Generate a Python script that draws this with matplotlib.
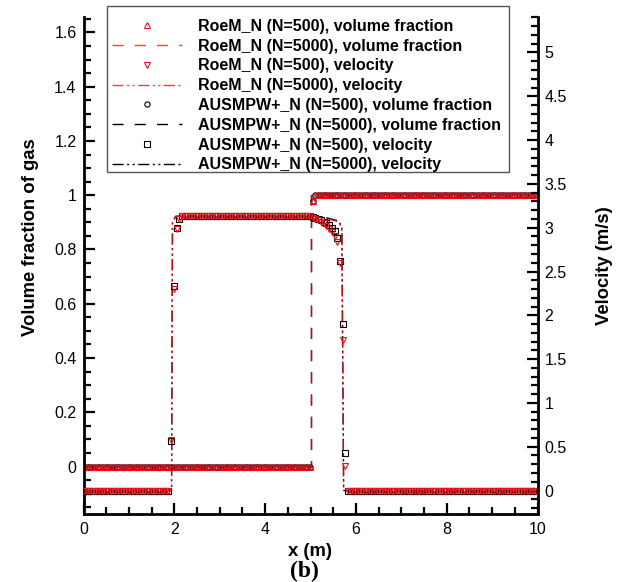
import matplotlib
matplotlib.use('Agg')
import matplotlib.pyplot as plt
import numpy as np
from matplotlib.patches import Rectangle
from matplotlib.ticker import MultipleLocator, FuncFormatter

plt.rcParams['font.family'] = ['Liberation Sans', 'DejaVu Sans']

## N=500 results (markers, every 3rd cell drawn) ##
x500 = np.round(0.01 + 0.06 * np.arange(167), 2)

# volume fraction: 0 left of the interface, 1 right of it
alpha_left = 0.0
alpha_right = 1.0
x_interface = 5.0
x_alpha_jump = [5.05]
roe_alpha_jump = [0.98]
ausm_alpha_jump = [0.98]

# velocity (m/s): 0 -> plateau -> 0
u_left = 0.0
u_mid = 3.13
u_right = 0.0
x_u_front = [1.93, 1.99, 2.05, 2.11]
roe_u_front = [0.58, 2.30, 2.98, 3.10]
ausm_u_front = [0.56, 2.33, 3.00, 3.10]
x_u_back = [5.05, 5.11, 5.17, 5.23, 5.29, 5.35, 5.41, 5.47, 5.53, 5.59, 5.65, 5.71, 5.77]
roe_u_back = [3.11, 3.10, 3.09, 3.07, 3.05, 3.02, 2.99, 2.95, 2.90, 2.84, 2.60, 1.72, 0.28]
ausm_u_back = [3.12, 3.11, 3.10, 3.09, 3.07, 3.05, 3.03, 3.00, 2.96, 2.88, 2.62, 1.90, 0.43]

## N=5000 results (lines) ##
x5000_alpha = [0.0, 5.0, 5.0, 10.0]
roe_alpha5000 = [0.0, 0.0, 1.0, 1.0]
ausm_alpha5000 = [0.0, 0.0, 1.0, 1.0]
x5000_u = [0.0, 1.94, 1.96, 2.03, 5.0, 5.3, 5.6, 5.69, 5.73, 10.0]
roe_u5000 = [0.0, 0.0, 3.05, 3.13, 3.13, 3.11, 3.07, 3.00, 0.0, 0.0]
ausm_u5000 = [0.0, 0.0, 3.06, 3.13, 3.13, 3.12, 3.08, 3.02, 0.0, 0.0]


def build_alpha(jump_vals):
    a = np.where(x500 < x_interface, alpha_left, alpha_right)
    for xj, v in zip(x_alpha_jump, jump_vals):
        a[np.isclose(x500, xj)] = v
    return a


def build_u(front, back):
    u = np.full(x500.shape, u_left)
    u[(x500 > x_u_front[-1]) & (x500 < x_u_back[0])] = u_mid
    u[x500 > x_u_back[-1]] = u_right
    for xs, vs in ((x_u_front, front), (x_u_back, back)):
        for xj, v in zip(xs, vs):
            u[np.isclose(x500, xj)] = v
    return u


roe_alpha500 = build_alpha(roe_alpha_jump)
ausm_alpha500 = build_alpha(ausm_alpha_jump)
roe_u500 = build_u(roe_u_front, roe_u_back)
ausm_u500 = build_u(ausm_u_front, ausm_u_back)

W, H = 617, 582
fig = plt.figure(figsize=(W / 100, H / 100), dpi=100)
ax = fig.add_axes([83.5 / W, 68 / H, 454 / W, 497 / H])
ax2 = ax.twinx()

red = '#e8121a'
dash = (0, (8, 8))
dashdotdot = (0, (8, 2.5, 1.5, 2.5, 1.5, 2.5))
mk = dict(markersize=3.8, markeredgewidth=0.8, markerfacecolor='none', linestyle='none')

# volume fraction on left axis
l_aus_a, = ax.plot(x5000_alpha, ausm_alpha5000, color='k', lw=1.0, linestyle=dash)
l_roe_a, = ax.plot(x5000_alpha, roe_alpha5000, color=red, lw=1.0, linestyle=dash, alpha=0.8)
m_aus_a, = ax.plot(x500, ausm_alpha500, marker='o', color='k', **mk)
m_roe_a, = ax.plot(x500, roe_alpha500, marker='^', color=red, **mk)

# velocity on right axis
l_aus_u, = ax2.plot(x5000_u, ausm_u5000, color='k', lw=1.0, linestyle=dashdotdot)
l_roe_u, = ax2.plot(x5000_u, roe_u5000, color=red, lw=1.0, linestyle=dashdotdot, alpha=0.8)
m_aus_u, = ax2.plot(x500, ausm_u500, marker='s', color='k', **mk)
m_roe_u, = ax2.plot(x500, roe_u500, marker='v', color=red, **mk)

ax.set_xlim(0, 10)
ax.set_ylim(-0.175, 1.657)
ax2.set_ylim(-0.268, 5.405)

fmt = FuncFormatter(lambda v, p: '%g' % round(v, 3))
ax.xaxis.set_major_locator(MultipleLocator(2))
ax.xaxis.set_minor_locator(MultipleLocator(0.5))
ax.yaxis.set_major_locator(MultipleLocator(0.2))
ax.yaxis.set_minor_locator(MultipleLocator(0.05))
ax2.yaxis.set_major_locator(MultipleLocator(0.5))
ax2.yaxis.set_minor_locator(MultipleLocator(0.1))
ax.xaxis.set_major_formatter(fmt)
ax.yaxis.set_major_formatter(fmt)
ax2.yaxis.set_major_formatter(fmt)

for a in (ax, ax2):
    a.spines['top'].set_visible(False)
    for s in a.spines.values():
        s.set_linewidth(2.0)
ax.spines['right'].set_visible(False)
ax2.spines['left'].set_visible(False)
ax2.spines['bottom'].set_visible(False)

ax.tick_params(which='both', direction='in', width=1.6, labelsize=11.5, top=False, right=False)
ax.tick_params(which='major', length=8)
ax.tick_params(which='minor', length=5)
ax.tick_params(axis='y', pad=5)
ax.tick_params(axis='x', pad=6)
ax2.tick_params(which='both', direction='in', width=1.6, labelsize=11.5, left=False)
ax2.tick_params(which='major', length=8, pad=5)
ax2.tick_params(which='minor', length=5)

ax.set_xlabel('x (m)', fontsize=13.3, fontweight='bold', labelpad=4)
ax.set_ylabel('Volume fraction of gas', fontsize=13.3, fontweight='bold')
ax.yaxis.set_label_coords(-0.098, 0.557)
ax2.set_ylabel('Velocity (m/s)', fontsize=13.3, fontweight='bold', labelpad=21)

fig.text(304 / W, 1 - 571 / H, '(b)', fontsize=17, fontweight='bold',
         family='Liberation Serif', ha='center', va='center')

# legend box (drawn separately so the top padding matches the original)
fig.add_artist(Rectangle((107 / W, 1 - 172 / H), 402 / W, 166 / H, transform=fig.transFigure,
                         facecolor='white', edgecolor='#555555', lw=1.0, zorder=4))

handles = [m_roe_a, l_roe_a, m_roe_u, l_roe_u, m_aus_a, l_aus_a, m_aus_u, l_aus_u]
labels = ['RoeM_N (N=500), volume fraction',
          'RoeM_N (N=5000), volume fraction',
          'RoeM_N (N=500), velocity',
          'RoeM_N (N=5000), velocity',
          'AUSMPW+_N (N=500), volume fraction',
          'AUSMPW+_N (N=5000), volume fraction',
          'AUSMPW+_N (N=500), velocity',
          'AUSMPW+_N (N=5000), velocity']
fig.legend(handles, labels, loc='upper left', bbox_to_anchor=(107 / W, 1 - 14 / H),
           borderaxespad=0, frameon=False, handlelength=4.4, handletextpad=1.0,
           labelspacing=0.30, borderpad=0.3, prop={'weight': 'bold', 'size': 11.5})

fig.savefig('out.png', dpi=100)
